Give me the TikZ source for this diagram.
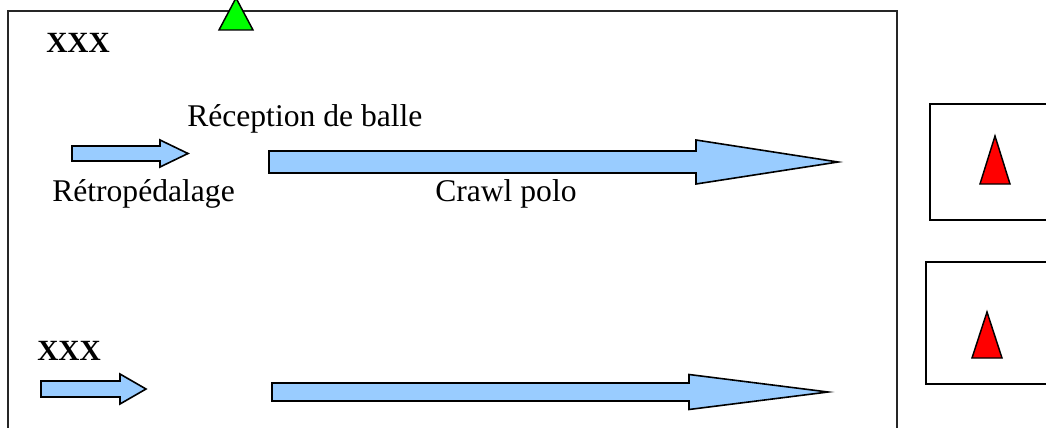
\documentclass[tikz,border=0pt]{standalone}
\usepackage{fontspec}
\setmainfont{Liberation Serif}
\usetikzlibrary{calc}
\definecolor{bleufleche}{HTML}{99CCFF}
\definecolor{vertplot}{HTML}{00FF00}
\definecolor{rougeplot}{HTML}{FF0000}
% fleche pleine : depart, base de la pointe, pointe, milieu, demi-corps, demi-pointe
\newcommand{\fleche}[6]{%
  \draw[fleche] (#1,{#4-#5}) -- (#2,{#4-#5}) -- (#2,{#4-#6}) -- (#3,#4)
    -- (#2,{#4+#6}) -- (#2,{#4+#5}) -- (#1,{#4+#5}) -- cycle;}

\begin{document}
\begin{tikzpicture}[x=0.75pt,y=-0.75pt,
    fleche/.style={draw=black,fill=bleufleche,line width=1.2pt},
    plot/.style={draw=black,line width=1.1pt},
    texte/.style={anchor=base west,inner sep=0pt,font=\fontsize{23.7}{28}\selectfont},
    titre/.style={anchor=base west,inner sep=0pt,font=\bfseries\fontsize{22}{26}\selectfont}]
            \useasboundingbox (0,0) rectangle (1046,428);
            \clip (0,0) rectangle (1046,428);

            % bassin
            \draw [black!85,line width=0.9pt] (8,11) rectangle (897,440);
            \draw [line width=1.1pt] (930,104) rectangle (1050,220);
            \draw [line width=1.1pt] (926,262) rectangle (1050,384);

            \draw [plot,fill=vertplot] (219,30) -- (236,-2) -- (253,30) -- cycle;
            \draw [plot,fill=rougeplot] (980,184) -- (995,136) -- (1010,184) -- cycle;
            \draw [plot,fill=rougeplot] (972,358) -- (987,312) -- (1002,358) -- cycle;

            \node [titre] (xxxa) at (46,53) {\textbf{XXX}};
            \node [titre] (xxxb) at (37,360) {\textbf{XXX}};

            \fleche{72}{160}{188}{153.5}{7.5}{13.5}
            \fleche{269}{696}{838}{162}{11}{22}
            \fleche{41}{120}{146}{389}{8}{15}
            \fleche{272}{689}{828}{392}{9}{17.5}

            \node [texte] (reception) at (187,127) {Réception de balle};
            \node [texte] (retro) at (52,201) {Rétropédalage};
            \node [texte] (crawl) at (435,201) {Crawl polo};
\end{tikzpicture}
\end{document}
